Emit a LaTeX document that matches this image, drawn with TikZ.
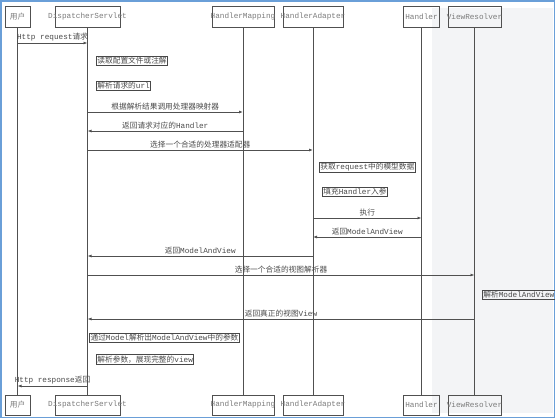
\documentclass[tikz,border=0pt]{standalone}
\usepackage{fontspec}
\setmainfont{Liberation Mono}
\newfontfamily\cjk{Noto Sans CJK SC}
\usetikzlibrary{arrows.meta}
\newcommand{\zh}[1]{{\cjk #1}}
\definecolor{lineg}{HTML}{505050}
\definecolor{textg}{HTML}{4A4A4A}
\definecolor{headg}{HTML}{7A7A7A}
\definecolor{paneg}{HTML}{F3F4F6}
\definecolor{frameb}{HTML}{6A9FD8}
\tikzset{
  head/.style={draw=lineg,line width=.8pt,minimum height=21,inner sep=0pt},
  htext/.style={text=headg,font=\fontsize{7.7}{9}\selectfont},
  life/.style={draw=lineg,line width=.8pt},
  msg/.style={draw=lineg,line width=.8pt,-{Latex[length=4pt,width=3pt]}},
  lbl/.style={above,inner sep=1.5pt,text=textg,font=\fontsize{7.7}{9}\selectfont},
  selfbox/.style={draw=lineg!90!black,line width=.8pt,anchor=west,inner sep=1pt,text=textg,font=\fontsize{7.7}{9}\selectfont},
}
\begin{document}
\begin{tikzpicture}[x=1pt,y=-1pt]
  \useasboundingbox (0,0) rectangle (555,418);
  \fill[paneg] (432,8) rectangle (553,413);
  \draw[frameb,line width=1.5pt] (.75,.75) rectangle (554.25,417.25);
  % heads, top and bottom
  \node[head,minimum width=25] (u) at (17.5,16.5) {};
  \node[htext] at (u) {\zh{用户}};
  \node[head,minimum width=65] (ds) at (87.5,16.5) {};
  \node[htext] at (ds) {DispatcherServlet};
  \node[head,minimum width=62] (hm) at (243,16.5) {};
  \node[htext] at (hm) {HandlerMapping};
  \node[head,minimum width=60] (ha) at (313,16.5) {};
  \node[htext] at (ha) {HandlerAdapter};
  \node[head,minimum width=36] (hd) at (421.5,16.5) {};
  \node[htext] at (hd) {Handler};
  \node[head,minimum width=53] (vr) at (474.5,16.5) {};
  \node[htext] at (vr) {ViewResolver};
  \node[head,minimum width=25,minimum height=20] (u2) at (17.5,405) {};
  \node[htext] at (u2) {\zh{用户}};
  \node[head,minimum width=65,minimum height=20] (ds2) at (87.5,405) {};
  \node[htext] at (ds2) {DispatcherServlet};
  \node[head,minimum width=62,minimum height=20] (hm2) at (243,405) {};
  \node[htext] at (hm2) {HandlerMapping};
  \node[head,minimum width=60,minimum height=20] (ha2) at (313,405) {};
  \node[htext] at (ha2) {HandlerAdapter};
  \node[head,minimum width=36,minimum height=20] (hd2) at (421.5,405) {};
  \node[htext] at (hd2) {Handler};
  \node[head,minimum width=53,minimum height=20] (vr2) at (474.5,405) {};
  \node[htext] at (vr2) {ViewResolver};
  % lifelines
  \foreach \a in {u,ds,hm,ha,hd,vr}
    \draw[life] (\a) -- (\a2);
  % messages
  \draw[msg] (u |- 0,43) -- node[lbl] {Http request\zh{请求}} (ds |- 0,43);
  \node[selfbox] (cfg) at (96,61) {\zh{读取配置文件或注解}};
  \node[selfbox] (url) at (96,85.5) {\zh{解析请求的}url};
  \draw[msg] (ds |- 0,112) -- node[lbl] {\zh{根据解析结果调用处理器映射器}} (hm |- 0,112);
  \draw[msg] (hm |- 0,131) -- node[lbl] {\zh{返回请求对应的}Handler} (ds |- 0,131);
  \draw[msg] (ds |- 0,150) -- node[lbl] {\zh{选择一个合适的处理器适配器}} (ha |- 0,150);
  \node[selfbox] (req) at (319,167.5) {\zh{获取}request\zh{中的模型数据}};
  \node[selfbox] (arg) at (322,191.5) {\zh{填充}Handler\zh{入参}};
  \draw[msg] (ha |- 0,218) -- node[lbl] {\zh{执行}} (hd |- 0,218);
  \draw[msg] (hd |- 0,237) -- node[lbl] {\zh{返回}ModelAndView} (ha |- 0,237);
  \draw[msg] (ha |- 0,256) -- node[lbl] {\zh{返回}ModelAndView} (ds |- 0,256);
  \draw[msg] (ds |- 0,275) -- node[lbl] {\zh{选择一个合适的视图解析器}} (vr |- 0,275);
  \node[selfbox] (mav) at (482,294.5) {\zh{解析}ModelAndView};
  \draw[msg] (vr |- 0,319) -- node[lbl] {\zh{返回真正的视图}View} (ds |- 0,319);
  \node[selfbox,anchor=center] (par) at (164.5,337.5) {\zh{通过}Model\zh{解析出}ModelAndView\zh{中的参数}};
  \node[selfbox] (view) at (96,359.5) {\zh{解析参数，展现完整的}view};
  \draw[msg] (ds |- 0,386) -- node[lbl] {Http response\zh{返回}} (u |- 0,386);
\end{tikzpicture}
\end{document}
